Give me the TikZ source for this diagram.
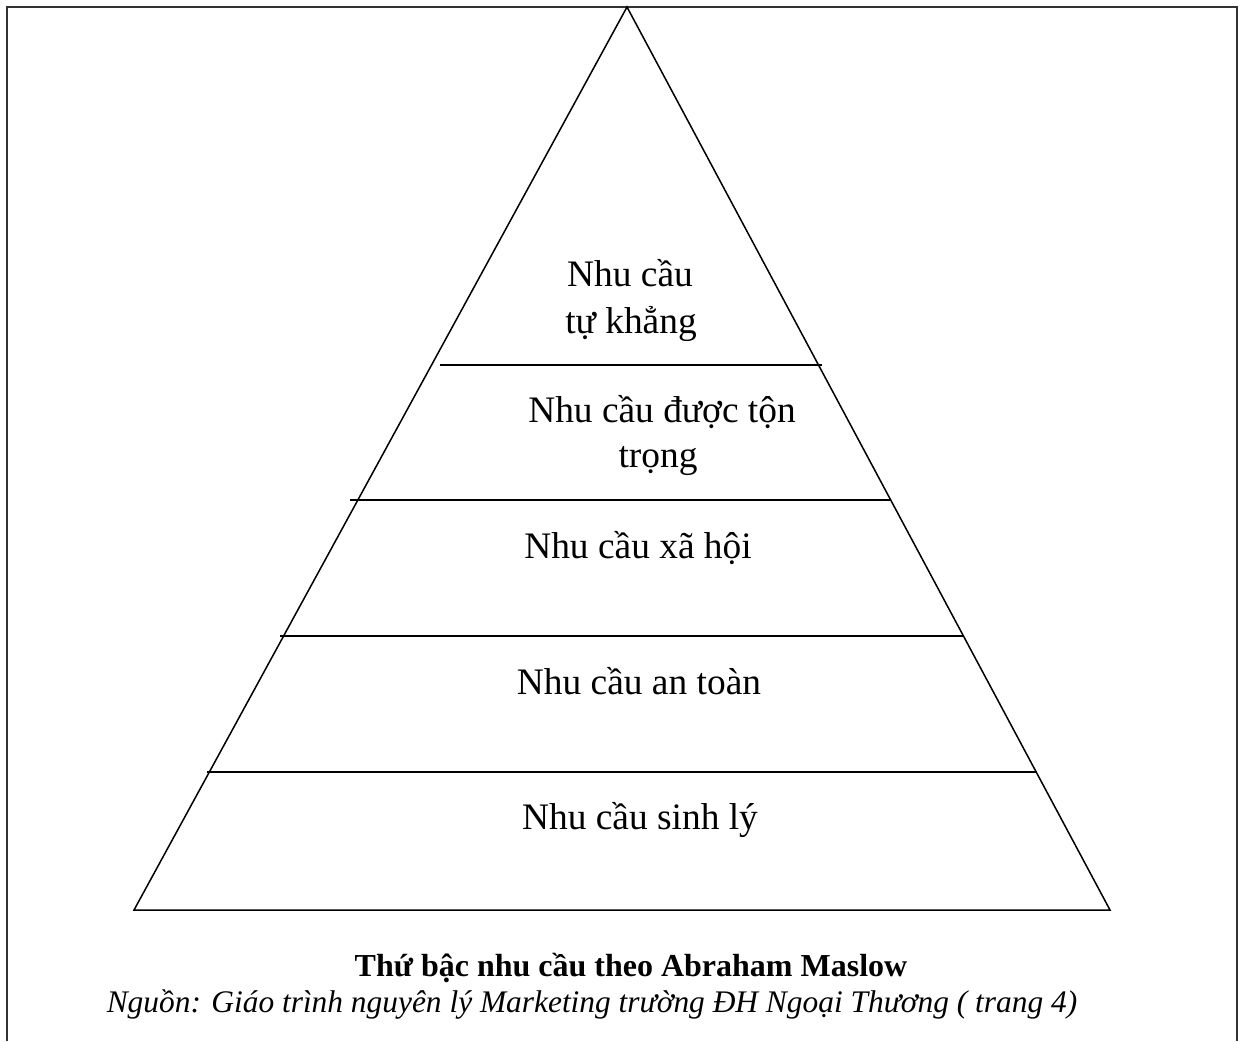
\documentclass[tikz,border=0pt]{standalone}
\usepackage{fontspec}
\setmainfont{Liberation Serif}[ItalicFont={Liberation Serif Italic}, BoldFont={Liberation Serif Bold}]
\usetikzlibrary{positioning,calc}

\begin{document}
\begin{tikzpicture}[x=0.5pt,y=-0.5pt,
	frame/.style={line width=1pt, draw=black!80},
	edge/.style={line width=0.75pt},
	need/.style={font=\fontsize{18.7}{22}\selectfont, anchor=base, inner sep=0pt},
	caption/.style={anchor=base, inner sep=0pt}]
	
	\useasboundingbox (0,0) rectangle (1245,1041);
	
	% open frame, no bottom side
	\draw[frame] (7,1041) -- (7,7) -- (1237,7) -- (1237,1041);
	
	% the pyramid
	\coordinate (apex) at (627,7);
	\coordinate (bl) at (134,910);
	\coordinate (br) at (1110,910);
	\draw[edge] (bl) -- (apex) -- (br) -- cycle;
	
	% levels, from the top down
	\foreach \y/\xl/\xr in {365/440/822, 500/350/891, 636/280/964, 772/207/1037}
	{
		\draw[edge] (\xl,\y) -- (\xr,\y);
	}
	
	\node[need] (self1) at (630,286) {Nhu cầu};
	\node[need] (self2) at (631,333) {tự khẳng};
	\node[need] (esteem1) at (662,422) {Nhu cầu được tộn};
	\node[need] (esteem2) at (658,467) {trọng};
	\node[need] (social) at (638,558) {Nhu cầu xã hội};
	\node[need] (safety) at (639,694) {Nhu cầu an toàn};
	\node[need] (body) at (640,829) {Nhu cầu sinh lý};
	
	\node[caption, font=\fontsize{16}{19}\selectfont\bfseries] (title) at (631,976) {Thứ bậc nhu cầu theo Abraham Maslow};
	\node[caption, font=\fontsize{15.7}{19}\selectfont\itshape] (source) at (592,1012) {Nguồn: Giáo trình nguyên lý Marketing trường ĐH Ngoại Thương ( trang 4)};
	
\end{tikzpicture}
\end{document}
